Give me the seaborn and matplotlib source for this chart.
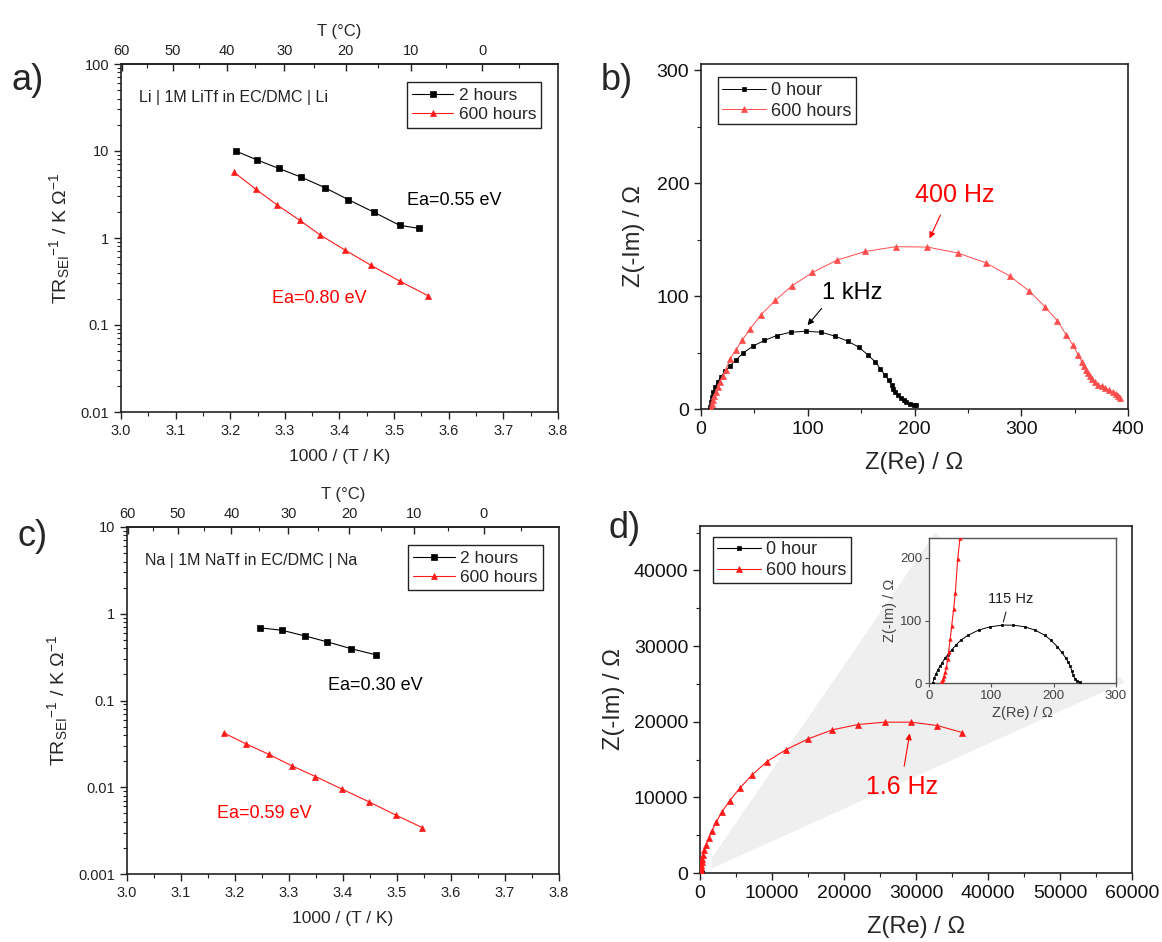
import numpy as np
import pandas as pd
import matplotlib
matplotlib.use("Agg")
import matplotlib.pyplot as plt
from matplotlib.ticker import MultipleLocator, FixedLocator, FuncFormatter, LogLocator, NullFormatter
import seaborn as sns

sns.set_style("ticks")
plt.rcParams['font.family'] = ['Liberation Sans', 'DejaVu Sans']
plt.rcParams['mathtext.fontset'] = 'custom'
plt.rcParams['mathtext.rm'] = 'Liberation Sans'
plt.rcParams['mathtext.it'] = 'Liberation Sans:italic'
plt.rcParams['mathtext.bf'] = 'Liberation Sans:bold'

# ---------------- data ----------------
# panel a: Li | 1M LiTf in EC/DMC | Li
a_x_2h = [3.210, 3.249, 3.289, 3.330, 3.373, 3.416, 3.463, 3.510, 3.545]
a_y_2h = [10.0, 7.9, 6.3, 5.0, 3.8, 2.76, 1.98, 1.40, 1.29]
a_x_600h = [3.207, 3.247, 3.285, 3.327, 3.365, 3.410, 3.458, 3.510, 3.562]
a_y_600h = [5.7, 3.63, 2.42, 1.60, 1.08, 0.728, 0.484, 0.32, 0.217]

# panel c: Na | 1M NaTf in EC/DMC | Na
c_x_2h = [3.247, 3.287, 3.329, 3.371, 3.414, 3.461]
c_y_2h = [0.687, 0.645, 0.556, 0.474, 0.397, 0.336]
c_x_600h = [3.179, 3.220, 3.263, 3.305, 3.349, 3.398, 3.449, 3.499, 3.547]
c_y_600h = [0.0424, 0.0317, 0.0239, 0.0177, 0.0133, 0.00953, 0.00675, 0.00474, 0.00342]

# panel b: Nyquist (Li)
b_re_0h = [8.7, 9.1, 10.1, 11.5, 13.2, 15.7, 18.5, 22.6, 27.2, 32.4, 39.7, 48.4, 59.2, 71.0,
           83.9, 98.2, 112.8, 125.7, 137.5, 148.0, 156.3, 163.3, 168.1, 172.3, 175.8, 178.6,
           180.3, 182.1, 184.2, 186.9, 189.7, 192.5, 196.0, 199.5, 201.2]
b_im_0h = [1.5, 6.2, 10.7, 15.1, 19.5, 24.0, 28.4, 33.4, 38.2, 43.2, 49.7, 55.6, 60.7, 65.1,
           68.0, 68.9, 68.0, 64.5, 60.1, 54.7, 47.9, 41.7, 35.5, 30.2, 25.4, 21.0,
           18.0, 15.1, 12.1, 9.8, 7.7, 6.2, 4.7, 3.8, 3.3]
b_re_600h = [9.4, 10.1, 11.1, 12.5, 13.9, 15.7, 17.8, 20.2, 23.0, 27.2, 32.4, 38.6, 46.3, 56.4,
             69.6, 84.9, 104.4, 127.4, 153.9, 182.4, 212.0, 240.6, 266.7, 289.3, 307.7,
             322.0, 333.9, 341.9, 348.5, 353.4, 356.8, 358.9, 360.3, 362.1, 364.1, 366.6,
             369.4, 372.2, 375.3, 378.8, 382.2, 385.7, 388.5, 390.9, 392.7]
b_im_600h = [0.6, 4.1, 7.7, 11.2, 15.1, 19.5, 24.0, 29.0, 34.3, 44.1, 52.1, 60.9, 71.3, 83.7,
             96.2, 108.9, 121.0, 131.9, 139.6, 143.8, 143.5, 138.2, 129.6, 117.8, 104.4,
             90.8, 78.1, 66.0, 56.5, 47.6, 41.7, 37.9, 34.9, 32.0, 29.0, 26.3,
             23.7, 21.6, 20.1, 18.6, 17.2, 15.4, 13.6, 11.8, 10.1]

# panel d: Nyquist (Na)
d_re_0h = [5.9, 8.6, 11.2, 14.4, 17.6, 21.4, 25.7, 29.9, 36.4, 43.3, 51.3, 63.1, 79.7, 97.9,
           117.6, 135.3, 153.5, 170.0, 186.1, 195.2, 205.9, 212.8, 219.3, 223.5, 226.7,
           229.4, 231.6, 234.2, 238.0, 242.2]
d_im_0h = [0.0, 7.9, 14.8, 21.2, 26.5, 32.8, 39.7, 45.0, 52.9, 60.8, 68.8, 76.7, 84.7, 89.9,
           92.6, 92.6, 89.9, 84.7, 76.2, 68.8, 58.2, 49.2, 40.2, 33.3, 26.5,
           18.5, 12.2, 6.9, 2.6, 1.1]
d_re_600h = [19.5, 21.0, 22.5, 24.0, 26.0, 28.0, 30.0, 31.5, 34.0, 36.5, 39.5, 42.2, 46.0, 49.7,
             70, 100, 150, 210, 280, 413, 620, 878, 1239, 1652, 2272, 3046, 4131, 5525,
             7177, 9294, 11979, 15025, 18382, 21945, 25663, 29277, 32943, 36402]
d_im_600h = [0.0, 3, 7, 11, 17, 25, 38, 50, 70, 92, 118, 144, 198, 232,
             450, 750, 1100, 1500, 1900, 2337, 2999, 3749, 4631, 5557, 6748, 8071, 9570, 11202,
             12922, 14730, 16317, 17729, 18920, 19625, 19934, 19934, 19493, 18567]

top_ticks_C = [60, 50, 40, 30, 20, 10, 0]

labels_ac = ['2 hours', '600 hours']
labels_bd = ['0 hour', '600 hours']

# ---------------- figure ----------------
W, H = 1162, 942
fig = plt.figure(figsize=(W / 100, H / 100), dpi=100)


def box(l, r, t, b):
    return [l / W, 1 - b / H, (r - l) / W, (b - t) / H]


axa = fig.add_axes(box(121, 558, 64, 412))
axb = fig.add_axes(box(701, 1128, 64, 409))
axc = fig.add_axes(box(127, 559, 527, 874))
axd = fig.add_axes(box(700, 1132, 526, 873))

RED = '#ff1a1a'
SPINE = '#222222'


def line(ax, x, y, color, marker, ms, label=None, lw=0.8, zorder=3):
    df = pd.DataFrame({'x': x, 'y': y})
    sns.lineplot(data=df, x='x', y='y', ax=ax, color=color, marker=marker, markersize=ms,
                 linewidth=lw, markeredgecolor=color, markeredgewidth=0.5, sort=False,
                 estimator=None, label=label, zorder=zorder, legend=False)


def style_spines(ax, lw=1.2):
    for s in ax.spines.values():
        s.set_visible(True)
        s.set_color(SPINE)
        s.set_linewidth(lw)


def pointer(ax, text, start, end, textpos, color, fs, head=True):
    ax.annotate('', xy=end, xytext=start,
                arrowprops=dict(arrowstyle='-|>' if head else '-', color=color, lw=0.8,
                                mutation_scale=9, shrinkA=0, shrinkB=0))
    ax.text(textpos[0], textpos[1], text, fontsize=fs, color=color, ha='center', va='center')


def arrhenius(ax, x2, y2, x6, y6, ylim, title, ea1, ea1_pos, ea2, ea2_pos):
    ax.set_yscale('log')
    line(ax, x2, y2, 'black', 's', 4.5, labels_ac[0])
    line(ax, x6, y6, RED, '^', 5, labels_ac[1])
    ax.set_xlim(3.0, 3.8)
    ax.set_ylim(*ylim)
    style_spines(ax)
    ax.xaxis.set_major_locator(MultipleLocator(0.1))
    ax.xaxis.set_minor_locator(MultipleLocator(0.05))
    ax.xaxis.set_major_formatter(FuncFormatter(lambda v, p: f'{v:.1f}'))
    ax.yaxis.set_major_locator(LogLocator(base=10, numticks=10))
    ax.yaxis.set_minor_locator(LogLocator(base=10, subs=np.arange(2, 10), numticks=10))
    ax.yaxis.set_minor_formatter(NullFormatter())
    ax.yaxis.set_major_formatter(FuncFormatter(lambda v, p: f'{v:g}'))
    ax.tick_params(axis='both', which='major', direction='out', length=5, width=1.0,
                   labelsize=10.5, colors=SPINE, labelcolor='#222222')
    ax.tick_params(axis='both', which='minor', direction='out', length=3, width=0.8, colors=SPINE)
    ax.tick_params(top=False, right=False)
    ax.set_xlabel('1000 / (T / K)', fontsize=12.5, labelpad=8)
    ax.set_ylabel(r'TR$_{\mathrm{SEI}}$$^{-1}$ / K Ω$^{-1}$', fontsize=14, labelpad=6)
    sec = ax.secondary_xaxis('top', functions=(lambda x: 1000.0 / np.clip(x, 1e-6, None) - 273.15,
                                               lambda t: 1000.0 / (np.asarray(t) + 273.15)))
    sec.xaxis.set_major_locator(FixedLocator(top_ticks_C))
    sec.xaxis.set_minor_locator(FixedLocator([55, 45, 35, 25, 15, 5, -5]))
    sec.xaxis.set_major_formatter(FuncFormatter(lambda v, p: f'{v:.0f}'))
    sec.tick_params(which='major', direction='in', length=5, width=1.0, labelsize=10.5,
                    colors=SPINE, pad=4)
    sec.tick_params(which='minor', direction='in', length=3, width=0.8, colors=SPINE)
    sec.spines['top'].set_color(SPINE)
    sec.spines['top'].set_linewidth(1.2)
    sec.set_xlabel('T (°C)', fontsize=12, labelpad=6)
    ax.text(0.042, 0.904, title, transform=ax.transAxes, fontsize=11.5, ha='left', va='center',
            color='#222222')
    ax.text(ea1_pos[0], ea1_pos[1], ea1, fontsize=13, ha='left', va='center', color='black')
    ax.text(ea2_pos[0], ea2_pos[1], ea2, fontsize=13, ha='left', va='center', color='red')
    leg = ax.legend(loc='upper right', bbox_to_anchor=(0.962, 0.947), fontsize=12.5,
                    frameon=True, fancybox=False, edgecolor='#222222', framealpha=1,
                    handlelength=2.4, handletextpad=0.3, borderpad=0.3, labelspacing=0.25,
                    borderaxespad=0)
    leg.get_frame().set_linewidth(1.0)


arrhenius(axa, a_x_2h, a_y_2h, a_x_600h, a_y_600h, (0.01, 100),
          'Li | 1M LiTf in EC/DMC | Li', 'Ea=0.55 eV', (3.524, 2.69), 'Ea=0.80 eV', (3.277, 0.203))
arrhenius(axc, c_x_2h, c_y_2h, c_x_600h, c_y_600h, (0.001, 10),
          'Na | 1M NaTf in EC/DMC | Na', 'Ea=0.30 eV', (3.372, 0.150), 'Ea=0.59 eV', (3.166, 0.00499))


def nyquist_style(ax, xmaj, xmin, ymaj, ymin, xlim, ylim, ylabelpad):
    ax.set_xlim(*xlim)
    ax.set_ylim(*ylim)
    style_spines(ax)
    ax.xaxis.set_major_locator(MultipleLocator(xmaj))
    ax.xaxis.set_minor_locator(MultipleLocator(xmin))
    ax.yaxis.set_major_locator(MultipleLocator(ymaj))
    ax.yaxis.set_minor_locator(MultipleLocator(ymin))
    ax.tick_params(axis='both', which='major', direction='out', length=5, width=1.0,
                   labelsize=14, colors=SPINE, labelcolor='#111111')
    ax.tick_params(axis='both', which='minor', direction='out', length=3, width=0.8, colors=SPINE)
    ax.tick_params(top=False, right=False)
    ax.set_xlabel('Z(Re) / Ω', fontsize=17, labelpad=10)
    ax.set_ylabel('Z(-Im) / Ω', fontsize=17, labelpad=ylabelpad)


# panel b
line(axb, b_re_0h, b_im_0h, 'black', 's', 3.5, labels_bd[0], lw=0.7)
line(axb, b_re_600h, b_im_600h, '#ff4d4d', '^', 3.8, labels_bd[1], lw=0.7)
nyquist_style(axb, 100, 50, 100, 50, (0, 400), (0, 305.7), 8)
leg = axb.legend(loc='upper left', bbox_to_anchor=(0.039, 0.961), fontsize=13,
                 frameon=True, fancybox=False, edgecolor='#222222', framealpha=1,
                 handlelength=2.4, handletextpad=0.3, borderpad=0.25, labelspacing=0.2,
                 borderaxespad=0)
leg.get_frame().set_linewidth(1.0)
pointer(axb, '400 Hz', (224.3, 171.8), (214.1, 151.2), (237.7, 189.7), 'red', 18)
pointer(axb, '1 kHz', (113.0, 89.1), (99.8, 74.3), (141.9, 102.4), 'black', 17)

# panel d
line(axd, d_re_0h, d_im_0h, 'black', 's', 3, labels_bd[0], lw=0.8, zorder=4)
line(axd, d_re_600h, d_im_600h, RED, '^', 4.5, labels_bd[1], lw=0.8, zorder=4)
nyquist_style(axd, 10000, 5000, 10000, 5000, (0, 60000), (0, 45860), 6)
leg = axd.legend(loc='upper left', bbox_to_anchor=(0.030, 0.969), fontsize=13,
                 frameon=True, fancybox=False, edgecolor='#222222', framealpha=1,
                 handlelength=2.4, handletextpad=0.3, borderpad=0.25, labelspacing=0.2,
                 borderaxespad=0)
leg.get_frame().set_linewidth(1.0)
pointer(axd, '1.6 Hz', (28361, 14114), (29125, 18439), (28000, 11376), 'red', 18)

# inset
axi = fig.add_axes(box(929, 1116, 538, 683))
line(axi, d_re_0h, d_im_0h, 'black', 's', 2, None, lw=0.7)
line(axi, d_re_600h, d_im_600h, RED, '^', 2.5, None, lw=0.8)
axi.set_xlim(0, 300)
axi.set_ylim(0, 232)
for s in axi.spines.values():
    s.set_visible(True)
    s.set_color('#555555')
    s.set_linewidth(1.0)
axi.xaxis.set_major_locator(MultipleLocator(100))
axi.yaxis.set_major_locator(MultipleLocator(100))
axi.tick_params(direction='out', length=3, width=0.8, labelsize=9.5, colors='#555555',
                labelcolor='#444444', pad=2)
axi.set_xlabel('Z(Re) / Ω', fontsize=10.5, color='#444444', labelpad=3)
axi.set_ylabel('Z(-Im) / Ω', fontsize=10.5, color='#444444', labelpad=2)
axi.set_facecolor('white')
pointer(axi, '115 Hz', (123.5, 113.6), (119.2, 97.8), (131.5, 133.8), '#222222', 10.5, head=False)

# grey zoom fan connecting origin region to inset
fig.canvas.draw()
inv = axd.transData.inverted()
tl = inv.transform((935, H - 533))
br = inv.transform((1125, H - 682))
fan = np.array([[1620, 600], [1620, 1950], tl, br])
axd.fill(fan[:, 0], fan[:, 1], color='#efefef', zorder=1, lw=0)

# panel letters
for lab, (px, py) in {'a)': (28, 80), 'b)': (617, 80), 'c)': (33, 536), 'd)': (625, 529)}.items():
    fig.text(px / W, 1 - py / H, lab, fontsize=26, ha='center', va='center')

fig.savefig('out.png', dpi=100)
